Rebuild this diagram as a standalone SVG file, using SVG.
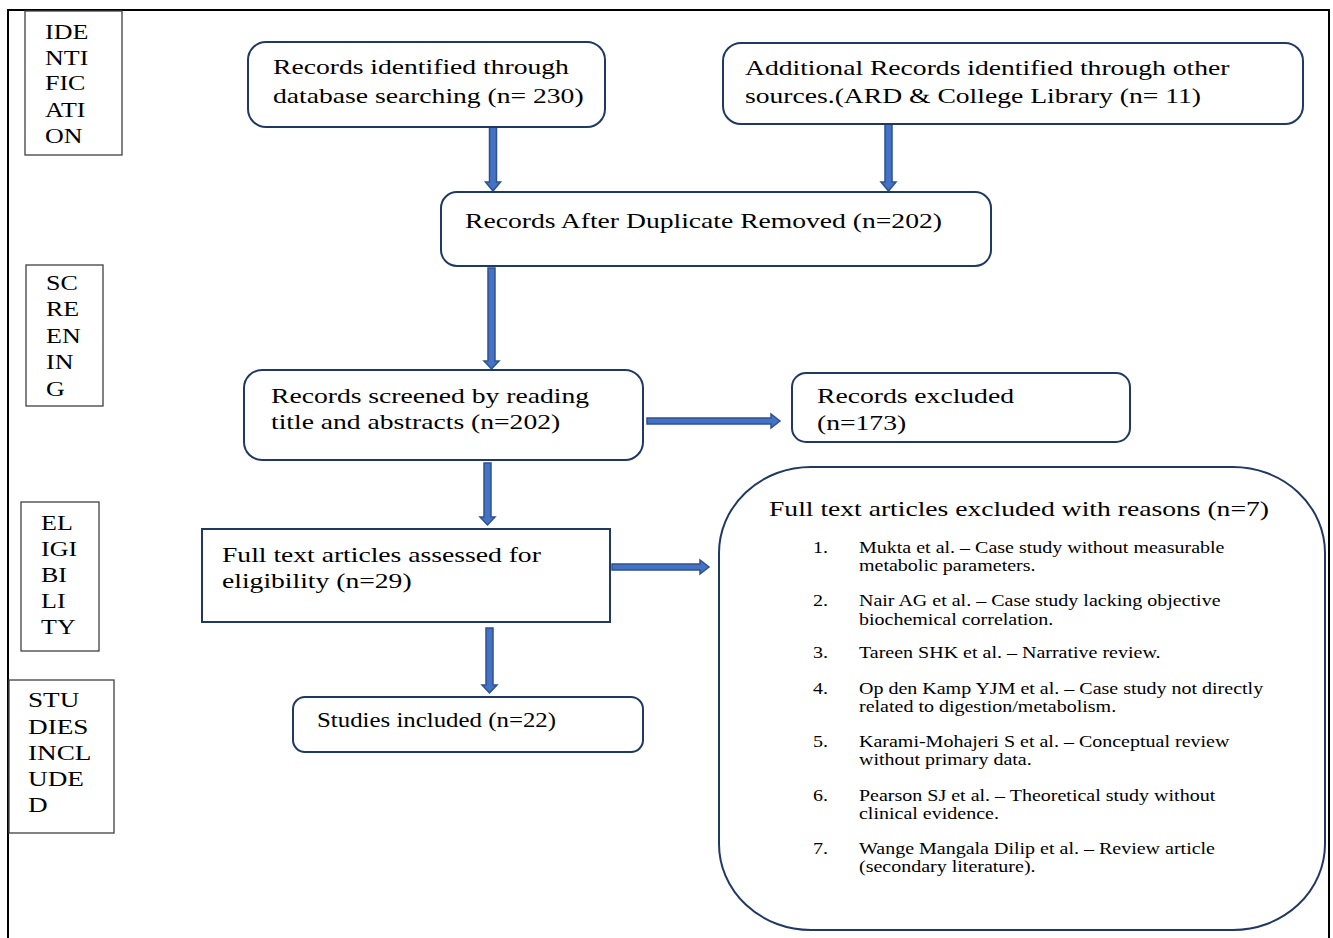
<svg xmlns="http://www.w3.org/2000/svg" width="1333" height="938" viewBox="0 0 1333 938">
<defs>
<style>
.t{font-family:"Liberation Serif","Times New Roman",serif;font-size:22px;fill:#000}
.s{font-family:"Liberation Serif","Times New Roman",serif;font-size:20px;fill:#000}
.l{font-family:"Liberation Serif","Times New Roman",serif;font-size:16px;fill:#000}
.node{fill:#fff;stroke:#1F3864;stroke-width:2}
.lab{fill:#fff;stroke:#404040;stroke-width:1.3}
.arr{fill:#4472C4;stroke:#2F528F;stroke-width:1.5;stroke-linejoin:miter}
</style>
</defs>
<rect width="1333" height="938" fill="#fff"/>
<path d="M8 938 V10 H1329 V938" fill="none" stroke="#000" stroke-width="2"/>

<g id="label-identification">
<rect class="lab" x="25" y="11" width="97" height="144"/>
<g class="s" transform="translate(45 0) scale(1.3 1)">
<text x="0" y="39">IDE</text>
<text x="0" y="65">NTI</text>
<text x="0" y="90">FIC</text>
<text x="0" y="117">ATI</text>
<text x="0" y="143">ON</text>
</g>
</g>
<g id="label-screening">
<rect class="lab" x="26" y="265" width="77" height="141"/>
<g class="s" transform="translate(46 0) scale(1.3 1)">
<text x="0" y="290">SC</text>
<text x="0" y="316">RE</text>
<text x="0" y="343">EN</text>
<text x="0" y="369">IN</text>
<text x="0" y="396">G</text>
</g>
</g>
<g id="label-eligibility">
<rect class="lab" x="21" y="502" width="78" height="149"/>
<g class="s" transform="translate(41 0) scale(1.3 1)">
<text x="0" y="530">EL</text>
<text x="0" y="556">IGI</text>
<text x="0" y="582">BI</text>
<text x="0" y="608">LI</text>
<text x="0" y="634">TY</text>
</g>
</g>
<g id="label-included">
<rect class="lab" x="9" y="680" width="105" height="153"/>
<g class="s" transform="translate(28 0) scale(1.36 1)">
<text x="0" y="707">STU</text>
<text x="0" y="734">DIES</text>
<text x="0" y="760">INCL</text>
<text x="0" y="786">UDE</text>
<text x="0" y="812">D</text>
</g>
</g>

<g id="connectors">
<polygon class="arr" points="489.5,127 496.5,127 496.5,182 500.5,182 493,191 485.5,182 489.5,182"/>
<polygon class="arr" points="885,124 892,124 892,182 896,182 888.5,191 881,182 885,182"/>
<polygon class="arr" points="488,268 495,268 495,361 499,361 491.5,369 484,361 488,361"/>
<polygon class="arr" points="484,463 491,463 491,517 495,517 487.5,525 480,517 484,517"/>
<polygon class="arr" points="486,628 493,628 493,685 497,685 489.5,693 482,685 486,685"/>
<polygon class="arr" points="647,418 771,418 771,414 780,421 771,428 771,424 647,424"/>
<polygon class="arr" points="612,564 700,564 700,560 709,567 700,574 700,570 612,570"/>
</g>

<g id="node-database">
<rect class="node" x="248" y="42" width="357" height="85" rx="18"/>
<g class="t" transform="translate(273 0) scale(1.255 1)">
<text x="0" y="74">Records identified through</text>
<text x="0" y="103">database searching (n= 230)</text>
</g>
</g>
<g id="node-other">
<rect class="node" x="723" y="43" width="580" height="81" rx="18"/>
<g class="t" transform="translate(745 0) scale(1.255 1)">
<text x="0" y="75">Additional Records identified through other</text>
<text x="0" y="103">sources.(ARD &amp; College Library  (n= 11)</text>
</g>
</g>
<g id="node-dedup">
<rect class="node" x="441" y="192" width="550" height="74" rx="16"/>
<g class="t" transform="translate(465 0) scale(1.255 1)">
<text x="0" y="228">Records After Duplicate Removed (n=202)</text>
</g>
</g>
<g id="node-screened">
<rect class="node" x="244" y="370" width="399" height="90" rx="18"/>
<g class="t" transform="translate(271 0) scale(1.255 1)">
<text x="0" y="403">Records screened by reading</text>
<text x="0" y="429">title and abstracts (n=202)</text>
</g>
</g>
<g id="node-excluded">
<rect class="node" x="792" y="373" width="338" height="69" rx="14"/>
<g class="t" transform="translate(817 0) scale(1.255 1)">
<text x="0" y="403">Records excluded</text>
<text x="0" y="430">(n=173)</text>
</g>
</g>
<g id="node-fulltext">
<rect class="node" x="202" y="529" width="408" height="93"/>
<g class="t" transform="translate(222 0) scale(1.255 1)">
<text x="0" y="562">Full text articles assessed for</text>
<text x="0" y="588">eligibility (n=29)</text>
</g>
</g>
<g id="node-included">
<rect class="node" x="293" y="697" width="350" height="55" rx="12"/>
<g class="t" transform="translate(317 0) scale(1.13 1)">
<text x="0" y="727">Studies included (n=22)</text>
</g>
</g>
<g id="node-reasons">
<rect class="node" x="719" y="467" width="606" height="463" rx="92" ry="86"/>
<g class="t" transform="translate(769 0) scale(1.255 1)">
<text x="0" y="516">Full text articles excluded with reasons (n=7)</text>
</g>
<g class="l" transform="translate(813 0) scale(1.25 1)">
<text x="0" y="553">1.</text><text x="36.8" y="553">Mukta et al. – Case study without measurable</text>
<text x="36.8" y="571">metabolic parameters.</text>
<text x="0" y="606">2.</text><text x="36.8" y="606">Nair AG et al. – Case study lacking objective</text>
<text x="36.8" y="625">biochemical correlation.</text>
<text x="0" y="658">3.</text><text x="36.8" y="658">Tareen SHK et al. – Narrative review.</text>
<text x="0" y="694">4.</text><text x="36.8" y="694">Op den Kamp YJM et al. – Case study not directly</text>
<text x="36.8" y="712">related to digestion/metabolism.</text>
<text x="0" y="747">5.</text><text x="36.8" y="747">Karami-Mohajeri S et al. – Conceptual review</text>
<text x="36.8" y="765">without primary data.</text>
<text x="0" y="801">6.</text><text x="36.8" y="801">Pearson SJ et al. – Theoretical study without</text>
<text x="36.8" y="819">clinical evidence.</text>
<text x="0" y="854">7.</text><text x="36.8" y="854">Wange Mangala Dilip et al. – Review article</text>
<text x="36.8" y="872">(secondary literature).</text>
</g>
</g>
</svg>
